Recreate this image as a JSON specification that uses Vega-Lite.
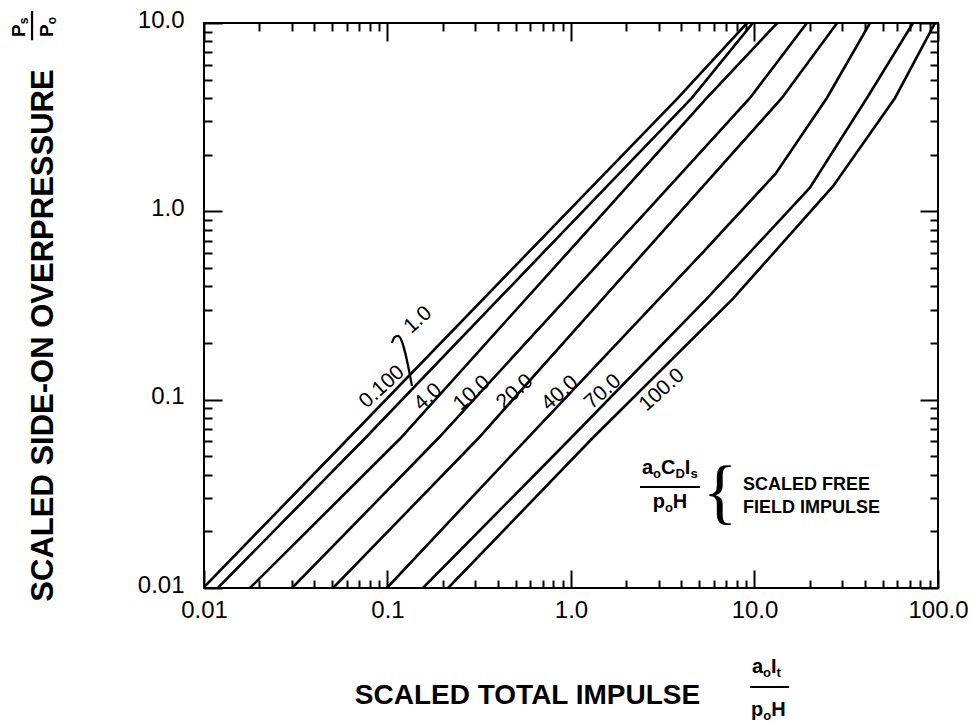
{
  "$schema": "https://vega.github.io/schema/vega-lite/v6.json",
  "width": 734,
  "height": 565,
  "autosize": {"type": "none"},
  "padding": {"left": 204, "top": 23, "right": 33, "bottom": 137},
  "background": "white",
  "config": {
    "view": {"stroke": "black", "strokeWidth": 2},
    "text": {"font": "Liberation Sans", "color": "black"},
    "axis": {
      "tickColor": "black", "tickWidth": 2, "domain": false, "grid": false,
      "labelColor": "black", "titleColor": "black",
      "labelFont": "Liberation Sans", "titleFont": "Liberation Sans",
      "labelFlush": false, "labelOverlap": false
    }
  },
  "datasets": {
    "curves": [
      {"c": "0.100", "x": 0.0099, "y": 0.01}, {"c": "0.100", "x": 0.061, "y": 0.062}, {"c": "0.100", "x": 0.964, "y": 1}, {"c": "0.100", "x": 3.83, "y": 4}, {"c": "0.100", "x": 9.1, "y": 10},
      {"c": "1.0", "x": 0.0119, "y": 0.01}, {"c": "1.0", "x": 0.075, "y": 0.062}, {"c": "1.0", "x": 1.16, "y": 1}, {"c": "1.0", "x": 4.56, "y": 4}, {"c": "1.0", "x": 9.8, "y": 10},
      {"c": "4.0", "x": 0.0178, "y": 0.01}, {"c": "4.0", "x": 0.117, "y": 0.062}, {"c": "4.0", "x": 1.53, "y": 1}, {"c": "4.0", "x": 5.5, "y": 4}, {"c": "4.0", "x": 13.3, "y": 10},
      {"c": "10.0", "x": 0.0302, "y": 0.01}, {"c": "10.0", "x": 0.188, "y": 0.062}, {"c": "10.0", "x": 2.58, "y": 1}, {"c": "10.0", "x": 9.45, "y": 4}, {"c": "10.0", "x": 19.3, "y": 10},
      {"c": "20.0", "x": 0.0505, "y": 0.01}, {"c": "20.0", "x": 0.311, "y": 0.062}, {"c": "20.0", "x": 3.96, "y": 1}, {"c": "20.0", "x": 14.1, "y": 4}, {"c": "20.0", "x": 28.2, "y": 10},
      {"c": "40.0", "x": 0.0993, "y": 0.01}, {"c": "40.0", "x": 0.575, "y": 0.062}, {"c": "40.0", "x": 5.05, "y": 0.583}, {"c": "40.0", "x": 13, "y": 1.58}, {"c": "40.0", "x": 24.8, "y": 4}, {"c": "40.0", "x": 42.6, "y": 10},
      {"c": "70.0", "x": 0.156, "y": 0.01}, {"c": "70.0", "x": 0.99, "y": 0.062}, {"c": "70.0", "x": 5.5, "y": 0.344}, {"c": "70.0", "x": 20, "y": 1.33}, {"c": "70.0", "x": 41, "y": 4}, {"c": "70.0", "x": 73.1, "y": 10},
      {"c": "100.0", "x": 0.214, "y": 0.01}, {"c": "100.0", "x": 1.3, "y": 0.062}, {"c": "100.0", "x": 7.64, "y": 0.344}, {"c": "100.0", "x": 26.8, "y": 1.36}, {"c": "100.0", "x": 58.3, "y": 4}, {"c": "100.0", "x": 96.4, "y": 10}
    ],
    "curveLabels": [
      {"t": "0.100", "x": 0.0933, "y": 0.1167},
      {"t": "1.0", "x": 0.1466, "y": 0.265},
      {"t": "4.0", "x": 0.1663, "y": 0.1033},
      {"t": "10.0", "x": 0.2884, "y": 0.1084},
      {"t": "20.0", "x": 0.4955, "y": 0.1099},
      {"t": "40.0", "x": 0.871, "y": 0.1084},
      {"t": "70.0", "x": 1.494, "y": 0.1099},
      {"t": "100.0", "x": 3.133, "y": 0.1125}
    ],
    "bracket": [
      {"o": 1, "x": 0.1058, "y": 0.2},
      {"o": 2, "x": 0.109, "y": 0.214},
      {"o": 3, "x": 0.114, "y": 0.218},
      {"o": 4, "x": 0.136, "y": 0.1183}
    ],
    "mainLetters": [
      {"t": "a", "x": 2.437, "y": 0.04029}, {"t": "C", "x": 3.094, "y": 0.04029}, {"t": "I", "x": 4.171, "y": 0.04029},
      {"t": "p", "x": 2.788, "y": 0.02659}, {"t": "H", "x": 3.587, "y": 0.02659},
      {"t": "a", "x": 9.692, "y": 0.003537}, {"t": "I", "x": 12.3, "y": 0.003537},
      {"t": "p", "x": 9.57, "y": 0.002091}, {"t": "H", "x": 12.32, "y": 0.002091}
    ],
    "subLetters": [
      {"t": "o", "x": 2.802, "y": 0.03837}, {"t": "D", "x": 3.707, "y": 0.03837}, {"t": "s", "x": 4.475, "y": 0.03837},
      {"t": "o", "x": 3.25, "y": 0.02532},
      {"t": "o", "x": 11.14, "y": 0.003368}, {"t": "t", "x": 13.19, "y": 0.003368},
      {"t": "o", "x": 11.15, "y": 0.001991}
    ],
    "hbars": [
      {"x": 2.377, "x2": 5.047, "y": 0.03437},
      {"x": 9.452, "x2": 15.42, "y": 0.00298}
    ],
    "vbars": [
      {"x": 0.001156, "y": 11.6, "y2": 8.1}
    ],
    "rotMain": [
      {"t": "P", "x": 0.001058, "y": 8.427},
      {"t": "P", "x": 0.001504, "y": 8.427}
    ],
    "rotSub": [
      {"t": "s", "x": 0.001099, "y": 9.842},
      {"t": "o", "x": 0.001561, "y": 9.842}
    ],
    "legendText": [
      {"t": "SCALED FREE", "x": 8.658, "y": 0.03314},
      {"t": "FIELD IMPULSE", "x": 8.658, "y": 0.02501}
    ],
    "brace": [
      {"t": "{", "x": 6.486, "y": 0.02441}
    ]
  },
  "layer": [
    {
      "data": {"name": "curves"},
      "mark": {"type": "line", "color": "black", "strokeWidth": 2.6, "clip": true},
      "encoding": {
        "detail": {"field": "c", "type": "nominal"},
        "x": {"field": "x", "type": "quantitative",
          "scale": {"type": "log", "domain": [0.01, 100], "nice": false},
          "axis": {"orient": "bottom", "values": [0.01, 0.1, 1, 10, 100], "tickSize": -18,
            "labelFontSize": 24, "labelPadding": 28,
            "labelExpr": "datum.value < 0.05 ? '0.01' : datum.value < 0.5 ? '0.1' : format(datum.value, '.1f')",
            "title": "SCALED TOTAL IMPULSE", "titleFontSize": 28, "titleFontWeight": "bold",
            "titleX": 323, "titleY": 115, "titleAlign": "center", "titleBaseline": "alphabetic", "titleAngle": 0}},
        "y": {"field": "y", "type": "quantitative",
          "scale": {"type": "log", "domain": [0.01, 10], "nice": false},
          "axis": {"orient": "left", "values": [0.01, 0.1, 1, 10], "tickSize": -18,
            "labelFontSize": 24, "labelPadding": 38, "labelOffset": -3,
            "labelExpr": "datum.value < 0.05 ? '0.01' : datum.value < 0.5 ? '0.1' : format(datum.value, '.1f')",
            "title": "SCALED SIDE-ON OVERPRESSURE", "titleFontSize": 31, "titleFontWeight": "bold",
            "titleX": -161, "titleY": 312, "titleAngle": -90, "titleAlign": "center", "titleBaseline": "middle"}}
      }
    },
    {
      "data": {"name": "curves"},
      "mark": {"type": "line", "strokeOpacity": 0},
      "encoding": {
        "detail": {"field": "c", "type": "nominal"},
        "x": {"field": "x", "type": "quantitative", "scale": {"type": "log", "domain": [0.01, 100], "nice": false},
          "axis": {"orient": "top", "values": [0.01, 0.1, 1, 10, 100], "tickSize": -18, "labels": false, "title": null}},
        "y": {"field": "y", "type": "quantitative", "scale": {"type": "log", "domain": [0.01, 10], "nice": false},
          "axis": {"orient": "right", "values": [0.01, 0.1, 1, 10], "tickSize": -18, "labels": false, "title": null}}
      }
    },
    {
      "data": {"name": "curves"},
      "mark": {"type": "line", "strokeOpacity": 0},
      "encoding": {
        "detail": {"field": "c", "type": "nominal"},
        "x": {"field": "x", "type": "quantitative", "scale": {"type": "log", "domain": [0.01, 100], "nice": false},
          "axis": {"orient": "bottom", "values": [0.02, 0.03, 0.04, 0.05, 0.06, 0.07, 0.08, 0.09, 0.2, 0.3, 0.4, 0.5, 0.6, 0.7, 0.8, 0.9, 2, 3, 4, 5, 6, 7, 8, 9, 20, 30, 40, 50, 60, 70, 80, 90], "tickSize": -8, "labels": false, "title": null}},
        "y": {"field": "y", "type": "quantitative", "scale": {"type": "log", "domain": [0.01, 10], "nice": false},
          "axis": {"orient": "left", "values": [0.02, 0.03, 0.04, 0.05, 0.06, 0.07, 0.08, 0.09, 0.2, 0.3, 0.4, 0.5, 0.6, 0.7, 0.8, 0.9, 2, 3, 4, 5, 6, 7, 8, 9], "tickSize": -8, "labels": false, "title": null}}
      }
    },
    {
      "data": {"name": "curves"},
      "mark": {"type": "line", "strokeOpacity": 0},
      "encoding": {
        "detail": {"field": "c", "type": "nominal"},
        "x": {"field": "x", "type": "quantitative", "scale": {"type": "log", "domain": [0.01, 100], "nice": false},
          "axis": {"orient": "top", "values": [0.02, 0.03, 0.04, 0.05, 0.06, 0.07, 0.08, 0.09, 0.2, 0.3, 0.4, 0.5, 0.6, 0.7, 0.8, 0.9, 2, 3, 4, 5, 6, 7, 8, 9, 20, 30, 40, 50, 60, 70, 80, 90], "tickSize": -8, "labels": false, "title": null}},
        "y": {"field": "y", "type": "quantitative", "scale": {"type": "log", "domain": [0.01, 10], "nice": false},
          "axis": {"orient": "right", "values": [0.02, 0.03, 0.04, 0.05, 0.06, 0.07, 0.08, 0.09, 0.2, 0.3, 0.4, 0.5, 0.6, 0.7, 0.8, 0.9, 2, 3, 4, 5, 6, 7, 8, 9], "tickSize": -8, "labels": false, "title": null}}
      }
    },
    {
      "data": {"name": "curveLabels"},
      "mark": {"type": "text", "angle": -42, "align": "center", "baseline": "middle", "fontSize": 21, "font": "Liberation Sans"},
      "encoding": {
        "x": {"field": "x", "type": "quantitative", "axis": null},
        "y": {"field": "y", "type": "quantitative", "axis": null},
        "text": {"field": "t"}
      }
    },
    {
      "data": {"name": "bracket"},
      "mark": {"type": "line", "color": "black", "strokeWidth": 2.2, "interpolate": "monotone"},
      "encoding": {
        "x": {"field": "x", "type": "quantitative", "axis": null},
        "y": {"field": "y", "type": "quantitative", "axis": null},
        "order": {"field": "o"}
      }
    },
    {
      "data": {"name": "mainLetters"},
      "mark": {"type": "text", "align": "left", "baseline": "alphabetic", "fontSize": 20, "fontWeight": "bold", "font": "Liberation Sans"},
      "encoding": {
        "x": {"field": "x", "type": "quantitative", "axis": null},
        "y": {"field": "y", "type": "quantitative", "axis": null},
        "text": {"field": "t"}
      }
    },
    {
      "data": {"name": "subLetters"},
      "mark": {"type": "text", "align": "left", "baseline": "alphabetic", "fontSize": 13, "fontWeight": "bold", "font": "Liberation Sans"},
      "encoding": {
        "x": {"field": "x", "type": "quantitative", "axis": null},
        "y": {"field": "y", "type": "quantitative", "axis": null},
        "text": {"field": "t"}
      }
    },
    {
      "data": {"name": "hbars"},
      "mark": {"type": "rule", "color": "black", "strokeWidth": 2.2},
      "encoding": {
        "x": {"field": "x", "type": "quantitative", "axis": null},
        "x2": {"field": "x2"},
        "y": {"field": "y", "type": "quantitative", "axis": null}
      }
    },
    {
      "data": {"name": "vbars"},
      "mark": {"type": "rule", "color": "black", "strokeWidth": 2.2},
      "encoding": {
        "x": {"field": "x", "type": "quantitative", "axis": null},
        "y": {"field": "y", "type": "quantitative", "axis": null},
        "y2": {"field": "y2"}
      }
    },
    {
      "data": {"name": "rotMain"},
      "mark": {"type": "text", "angle": -90, "align": "left", "baseline": "alphabetic", "fontSize": 19, "fontWeight": "bold", "font": "Liberation Sans"},
      "encoding": {
        "x": {"field": "x", "type": "quantitative", "axis": null},
        "y": {"field": "y", "type": "quantitative", "axis": null},
        "text": {"field": "t"}
      }
    },
    {
      "data": {"name": "rotSub"},
      "mark": {"type": "text", "angle": -90, "align": "left", "baseline": "alphabetic", "fontSize": 12, "fontWeight": "bold", "font": "Liberation Sans"},
      "encoding": {
        "x": {"field": "x", "type": "quantitative", "axis": null},
        "y": {"field": "y", "type": "quantitative", "axis": null},
        "text": {"field": "t"}
      }
    },
    {
      "data": {"name": "legendText"},
      "mark": {"type": "text", "align": "left", "baseline": "alphabetic", "fontSize": 18, "fontWeight": "bold", "font": "Liberation Sans"},
      "encoding": {
        "x": {"field": "x", "type": "quantitative", "axis": null},
        "y": {"field": "y", "type": "quantitative", "axis": null},
        "text": {"field": "t"}
      }
    },
    {
      "data": {"name": "brace"},
      "mark": {"type": "text", "align": "center", "baseline": "alphabetic", "fontSize": 72, "font": "Liberation Serif"},
      "encoding": {
        "x": {"field": "x", "type": "quantitative", "axis": null},
        "y": {"field": "y", "type": "quantitative", "axis": null},
        "text": {"field": "t"}
      }
    }
  ],
  "resolve": {"axis": {"x": "independent", "y": "independent"}}
}
